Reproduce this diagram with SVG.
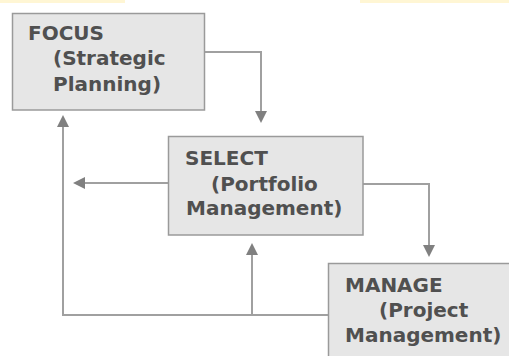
<svg xmlns="http://www.w3.org/2000/svg" width="509" height="356" viewBox="0 0 509 356">
<style>
.box{fill:#e6e6e6;stroke:#9a9a9a;stroke-width:1.5}
.t{font-family:"DejaVu Sans",Verdana,sans-serif;font-weight:bold;font-size:20px;fill:#505050}
.c{fill:none;stroke:#a0a0a0;stroke-width:2}
</style>
<defs>
<marker id="ah" markerUnits="userSpaceOnUse" markerWidth="12" markerHeight="12" refX="8" refY="6" orient="auto" viewBox="0 0 12 12">
<path d="M0,0 L12,6 L0,12 z" fill="#808080"/>
</marker>
</defs>
<rect x="0" y="0" width="125" height="3" fill="#fff6d4"/>
<rect x="360" y="0" width="149" height="3" fill="#fff6d4"/>
<g id="connectors">
<path class="c" d="M204,52 H261 V119" marker-end="url(#ah)"/>
<path class="c" d="M168,183 H77" marker-end="url(#ah)"/>
<path class="c" d="M363,184 H429 V253" marker-end="url(#ah)"/>
<path class="c" d="M328,315 H63 V119" marker-end="url(#ah)"/>
<path class="c" d="M252,315 V247" marker-end="url(#ah)"/>
</g>
<g id="focus">
<rect class="box" x="12.5" y="13.5" width="192" height="96.5"/>
<text class="t" x="28" y="40">FOCUS</text>
<text class="t" x="53" y="65">(Strategic</text>
<text class="t" x="53" y="91">Planning)</text>
</g>
<g id="select">
<rect class="box" x="168.5" y="136.5" width="194.5" height="98.5"/>
<text class="t" x="185" y="165">SELECT</text>
<text class="t" x="211" y="191">(Portfolio</text>
<text class="t" x="186" y="215">Management)</text>
</g>
<g id="manage">
<rect class="box" x="328.5" y="263.5" width="190" height="100"/>
<text class="t" x="345" y="292">MANAGE</text>
<text class="t" x="379" y="317">(Project</text>
<text class="t" x="345" y="342">Management)</text>
</g>
</svg>
